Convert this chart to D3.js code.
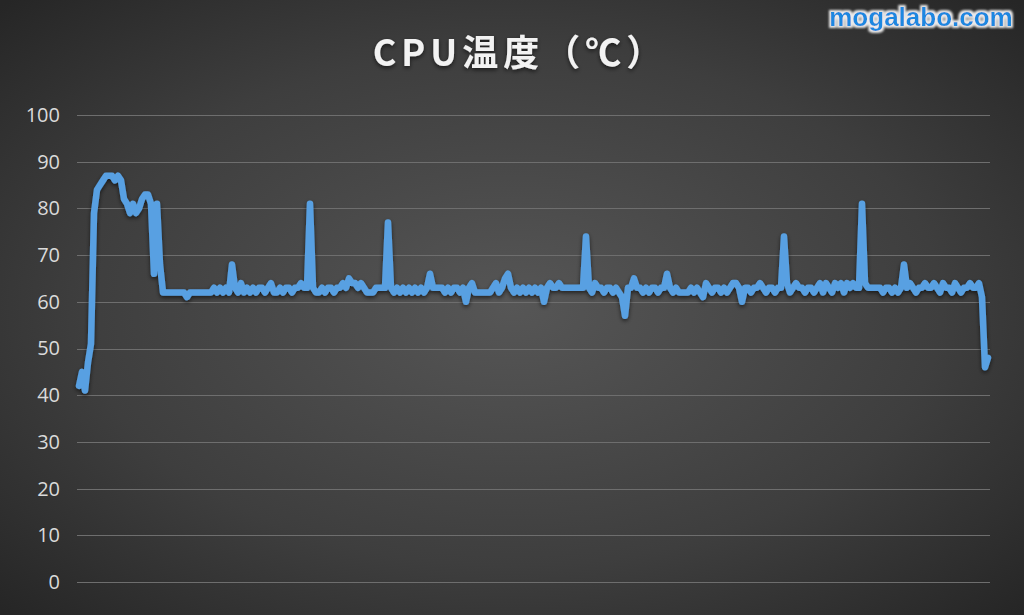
<!DOCTYPE html>
<html>
<head>
<meta charset="utf-8">
<script src="https://cdn.jsdelivr.net/npm/d3@7"></script>
<style>
html,body{margin:0;padding:0;background:#333;}
svg{display:block;}
</style>
</head>
<body>
<svg id="chart" width="1024" height="615"></svg>
<script>
const titleText = "CPU温度（℃）";
const watermarkText = "mogalabo.com";
const yTicks = [0, 10, 20, 30, 40, 50, 60, 70, 80, 90, 100];
const cpuTemp = [
42,45,41,47,51,79,84,85,86,87,87,87,86,87,86,82,81,79,81,79,
80,82,83,83,81,66,81,68,62,62,62,62,62,62,62,62,61,62,62,62,
62,62,62,62,62,63,62,63,62,63,62,68,63,62,64,62,63,62,63,62,
63,63,62,63,64,62,62,63,62,63,63,62,63,63,64,63,63,81,63,62,
62,63,62,63,63,62,63,63,64,63,65,64,64,63,64,63,62,62,62,63,
63,63,63,77,63,62,63,62,63,62,63,62,63,62,63,62,63,66,63,63,
63,63,62,63,62,63,63,62,63,60,63,64,62,62,62,62,62,62,63,64,
62,63,65,66,63,62,63,62,63,62,63,62,63,62,63,60,63,64,63,63,
64,63,63,63,63,63,63,63,63,74,63,62,64,63,63,62,63,63,62,63,
62,61,57,63,63,65,63,63,62,63,62,63,63,62,63,63,66,63,62,63,
62,62,62,62,63,62,63,62,61,64,63,62,63,63,62,63,62,63,64,64,
63,60,63,63,62,63,63,64,63,62,63,63,62,63,63,74,64,62,63,64,
63,63,62,63,63,62,63,64,62,64,63,62,64,63,64,62,64,63,64,63,
63,81,64,63,63,63,63,63,62,63,63,62,63,62,63,68,63,64,63,62,
63,63,64,63,63,64,63,62,64,63,63,62,64,63,62,63,63,64,63,63,
64,61,46,48
];

const W = 1024, H = 615;
const svg = d3.select("#chart");
const defs = svg.append("defs");

const bg = defs.append("radialGradient").attr("id", "bg")
  .attr("cx", "50%").attr("cy", "50%").attr("r", "70%");
bg.append("stop").attr("offset", "0%").attr("stop-color", "#565656");
bg.append("stop").attr("offset", "60%").attr("stop-color", "#3e3e3e");
bg.append("stop").attr("offset", "100%").attr("stop-color", "#262626");

const shadow = defs.append("filter").attr("id", "shadow")
  .attr("x", "-5%").attr("y", "-5%").attr("width", "110%").attr("height", "120%");
shadow.append("feDropShadow").attr("dx", 0).attr("dy", 2).attr("stdDeviation", 2)
  .attr("flood-color", "#000").attr("flood-opacity", 0.6);

const glow = defs.append("filter").attr("id", "glow")
  .attr("x", "-10%").attr("y", "-30%").attr("width", "120%").attr("height", "160%");
glow.append("feMorphology").attr("in", "SourceAlpha").attr("operator", "dilate").attr("radius", 1.5).attr("result", "d");
glow.append("feGaussianBlur").attr("in", "d").attr("stdDeviation", 1.2).attr("result", "b");
glow.append("feFlood").attr("flood-color", "#ffffff").attr("flood-opacity", 0.9);
glow.append("feComposite").attr("in2", "b").attr("operator", "in").attr("result", "g");
const gm = glow.append("feMerge");
gm.append("feMergeNode").attr("in", "g");
gm.append("feMergeNode").attr("in", "SourceGraphic");

svg.append("rect").attr("width", W).attr("height", H).attr("fill", "url(#bg)");

const plot = {left: 77, right: 990, top: 115, bottom: 582};
const y = d3.scaleLinear().domain([0, 100]).range([plot.bottom, plot.top]);
const x = d3.scaleLinear().domain([0, cpuTemp.length - 1]).range([79, 988]);

// gridlines
svg.append("g").selectAll("line").data(yTicks).join("line")
  .attr("x1", plot.left).attr("x2", plot.right)
  .attr("y1", d => Math.round(y(d)) + 0.5).attr("y2", d => Math.round(y(d)) + 0.5)
  .attr("stroke", "#6e6e6e").attr("stroke-width", 1);

// y axis labels
const yAxis = d3.axisLeft(y).tickValues(yTicks).tickSize(0).tickPadding(0);
const ya = svg.append("g").attr("transform", "translate(60,0)").call(yAxis);
ya.select(".domain").remove();
ya.selectAll("text").attr("fill", "#dadada")
  .style("font-family", "'Open Sans', 'Noto Sans', sans-serif").style("font-size", "20px");

// line
const line = d3.line().x((d, i) => x(i)).y(d => y(d)).curve(d3.curveLinear);
svg.append("path").datum(cpuTemp)
  .attr("d", line).attr("fill", "none")
  .attr("stroke", "#58a0e2").attr("stroke-width", 6.5)
  .attr("stroke-linejoin", "round").attr("stroke-linecap", "round")
  .attr("filter", "url(#shadow)");

// title
svg.append("text").attr("x", 520).attr("y", 66).attr("text-anchor", "middle")
  .attr("fill", "#f2f2f2").attr("font-weight", "bold")
  .style("font-family", "'Noto Sans CJK JP', 'Noto Sans', sans-serif")
  .style("font-size", "36px").style("letter-spacing", "5px")
  .attr("filter", "url(#shadow)")
  .text(titleText);

// watermark
svg.append("text").attr("x", 921).attr("y", 26).attr("text-anchor", "middle")
  .attr("fill", "#1e88e0").attr("font-weight", "bold")
  .style("font-family", "'Liberation Sans', Arial, sans-serif")
  .style("font-size", "26px")
  .attr("filter", "url(#glow)")
  .text(watermarkText);
</script>
</body>
</html>
